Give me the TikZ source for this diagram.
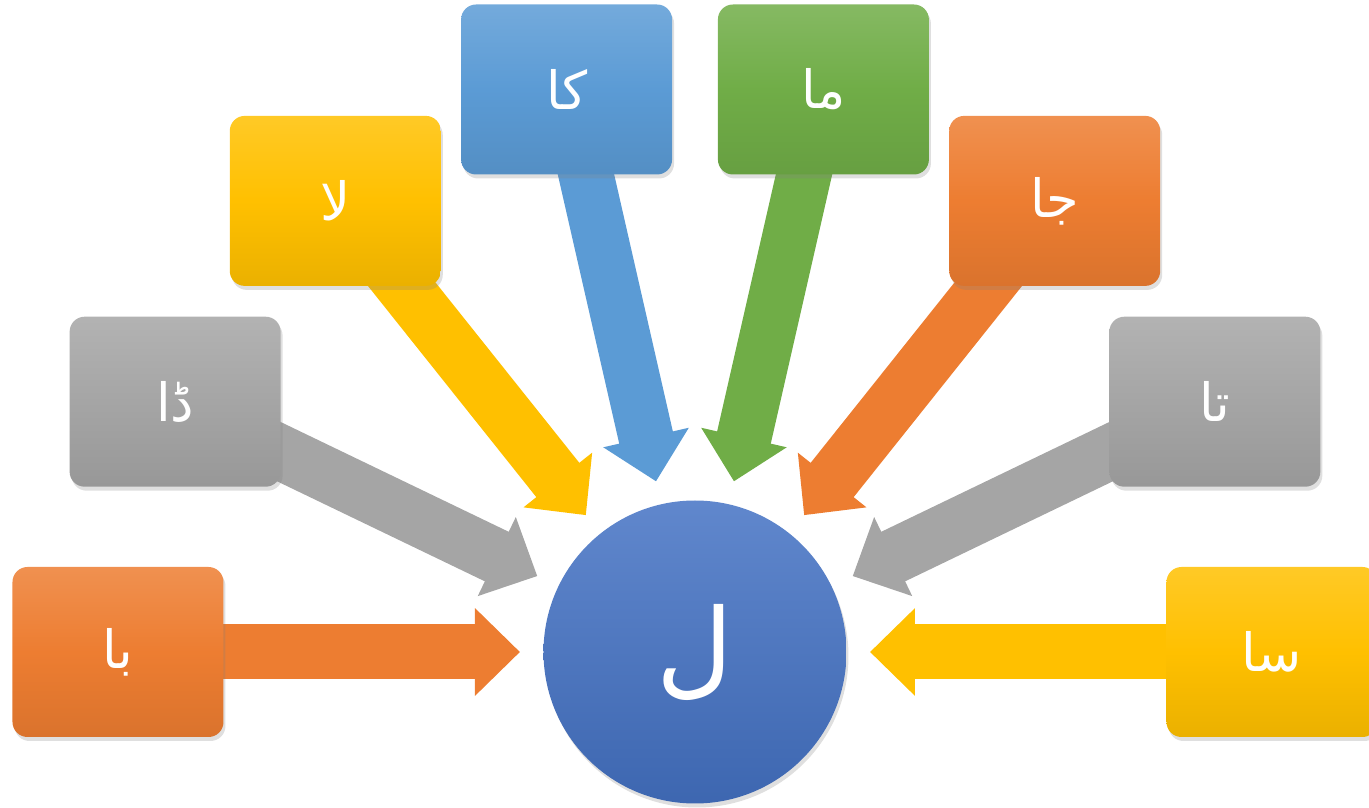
\documentclass[tikz,border=0pt]{standalone}
\usepackage{fontspec}
\newfontfamily\arabicfont[Script=Arabic]{DejaVu Sans}
\TeXXeTstate=1
\usetikzlibrary{arrows.meta,shadows,backgrounds}

\definecolor{accOrange}{HTML}{ED7D31}
\definecolor{accGray}{HTML}{A5A5A5}
\definecolor{accGold}{HTML}{FFC000}
\definecolor{accBlue}{HTML}{5B9BD5}
\definecolor{accGreen}{HTML}{70AD47}
\definecolor{accHub}{HTML}{4472C4}

\begin{document}
\begin{tikzpicture}[
    letter/.style={rounded corners=0.3cm, minimum width=4.22cm, minimum height=3.4cm,
      top color=#1!85!white, bottom color=#1!92!black, middle color=#1,
      drop shadow={shadow xshift=0.04cm, shadow yshift=-0.08cm, opacity=0.25},
      text=white, font=\arabicfont\fontsize{30}{36}\selectfont},
    hub/.style={circle, minimum size=6.06cm, inner sep=0pt,
      top color=accHub!85!white, bottom color=accHub!90!black,
      drop shadow={shadow xshift=0.04cm, shadow yshift=-0.08cm, opacity=0.25},
      text=white, font=\arabicfont\fontsize{60}{72}\selectfont},
    link/.style={draw=#1, line width=1.1cm, shorten >=3.5cm,
      -{Triangle[length=0.9cm,width=1.7cm]}}
  ]
  \useasboundingbox (-13.9,-3.12) rectangle (13.48,13.04);

  \node[hub] (c) at (0,0) {\beginR ل\endR};

  % eight syllables round the hub
  \foreach \ang/\txt/\col [count=\i from 0] in {180/با/accOrange, 154.29/ڈا/accGray,
      128.57/لا/accGold, 102.86/کا/accBlue, 77.14/ما/accGreen, 51.43/جا/accOrange,
      25.71/تا/accGray, 0/سا/accGold}
  {
    \node[letter=\col] (s\i) at (\ang:11.54) {\beginR\txt\endR};
    \begin{pgfonlayer}{background}
      \draw[link=\col] (s\i.center) -- (c.center);
    \end{pgfonlayer}
  }
\end{tikzpicture}
\end{document}
